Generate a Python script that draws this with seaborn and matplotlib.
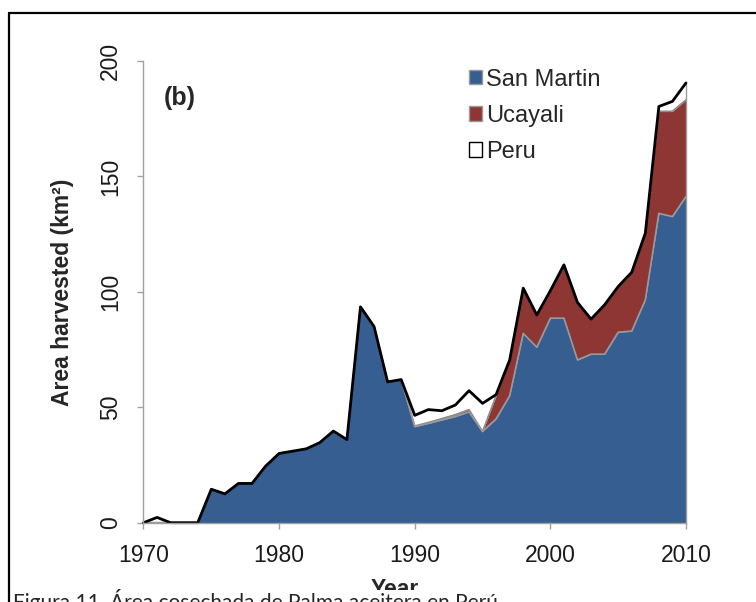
import matplotlib
matplotlib.use("Agg")
import matplotlib.pyplot as plt
import seaborn as sns
from matplotlib.patches import Patch, Rectangle
from matplotlib.lines import Line2D

# values (km2)
years = list(range(1970, 2011))
san_martin = [0, 0, 0, 0, 0, 14.5, 12.5, 17, 17, 24.5,
              30, 31, 32, 34.7, 39.7, 36, 93.5, 85, 61, 62,
              41.6, 43, 44.5, 46, 48, 39.5, 45, 55, 82, 76,
              88.6, 88.6, 70.5, 73, 73, 82.5, 83, 96.5, 134, 132.6, 141.3]
ucayali = [0, 0, 0, 0, 0, 0, 0, 0, 0, 0,
           0, 0, 0, 0, 0, 0, 0, 0, 0, 0,
           0.3, 0.4, 0.6, 0.8, 1.0, 0, 10, 15.5, 19.6, 14,
           11.9, 23.1, 24.9, 15.2, 21.4, 19.8, 25.5, 28.9, 44.2, 45.6, 41.9]
peru = [0, 2.3, 0, 0, 0, 14.5, 12.5, 17, 17, 24.5,
        30, 31, 32, 34.7, 39.7, 36, 93.5, 85, 61, 62,
        46.5, 49, 48.5, 51, 57.2, 51.7, 55.5, 70.5, 101.6, 90,
        100.5, 111.7, 95.4, 88.2, 94.4, 102.3, 108.5, 125.4, 180.3, 182.5, 190.5]
series_names = ["San Martin", "Ucayali", "Peru"]

blue = "#365e91"
red = "#8e3633"

sns.set_style("white")
plt.rcParams["font.family"] = ["Liberation Sans", "DejaVu Sans"]

fig = plt.figure(figsize=(7.56, 6.02), dpi=100)
ax = fig.add_axes([0.1898, 0.1317, 0.7176, 0.767])

stack_top = [s + u for s, u in zip(san_martin, ucayali)]

ax.fill_between(years, 0, peru, color="white", lw=0)
ax.fill_between(years, san_martin, stack_top, color=red, lw=0)
ax.fill_between(years, 0, san_martin, color=blue, lw=0)
sns.lineplot(x=years, y=stack_top, color="#8a8a8a", lw=1.2, ax=ax)
sns.lineplot(x=years, y=san_martin, color="#9a9a9a", lw=1.2, ax=ax)
ax.plot([2010, 2010], [0, peru[-1]], color="#9a9a9a", lw=1.0)
sns.lineplot(x=years, y=peru, color="black", lw=2.0, ax=ax)
for ln in ax.lines:
    ln.set_clip_on(False)

ax.set_xlim(1970, 2010)
ax.set_ylim(0, 200)
ax.set_xticks([1970, 1980, 1990, 2000, 2010])
ax.set_yticks([0, 50, 100, 150, 200])
for side in ["top", "right"]:
    ax.spines[side].set_visible(False)
for side in ["left", "bottom"]:
    ax.spines[side].set_color("#a0a0a0")
    ax.spines[side].set_linewidth(1.0)
ax.tick_params(direction="out", length=4.5, width=1, color="#a0a0a0",
               labelsize=16.5, labelcolor="#1a1a1a", pad=11, left=True, bottom=True)
plt.setp(ax.get_yticklabels(), rotation=90, va="center")
ax.set_xlabel("")
ax.set_ylabel("")

ax.text(1971.5, 184, "(b)", fontsize=18, fontweight="bold", va="center", ha="left")

handles = [Patch(facecolor=blue, edgecolor="#9a9a9a"),
           Patch(facecolor=red, edgecolor="#9a9a9a"),
           Patch(facecolor="white", edgecolor="black")]
ax.legend(handles, series_names, loc="upper left", bbox_to_anchor=(0.62, 0.886),
          bbox_transform=fig.transFigure, frameon=False, fontsize=17,
          handlelength=0.55, handleheight=0.55, handletextpad=0.2,
          labelspacing=0.6, borderpad=0, borderaxespad=0)

fig.text(62 / 756, 1 - 292 / 602, "Area harvested (km²)", rotation=90,
         fontsize=16.5, fontweight="bold", ha="center", va="center")
fig.text(395 / 756, 0.01, "Year", fontsize=16.5, fontweight="bold",
         ha="center", va="baseline")

# caption strip, cut at the bottom edge
fig.add_artist(Rectangle((0.013, 0), 0.99, 0.02, transform=fig.transFigure,
                         facecolor="white", edgecolor="none", zorder=5))
fig.text(0.017, -0.011, "Figura 11. Área cosechada de Palma aceitera en Perú",
         fontsize=15, family=["Lato", "DejaVu Sans"], ha="left", va="baseline",
         zorder=6)

# outer frame
fig.add_artist(Line2D([9 / 756, 1.0], [1 - 13 / 602, 1 - 13 / 602],
                      transform=fig.transFigure, color="black", lw=1.6, zorder=7))
fig.add_artist(Line2D([9 / 756, 9 / 756], [0, 1 - 13 / 602],
                      transform=fig.transFigure, color="black", lw=1.6, zorder=7))

fig.savefig("out.png", dpi=100)
